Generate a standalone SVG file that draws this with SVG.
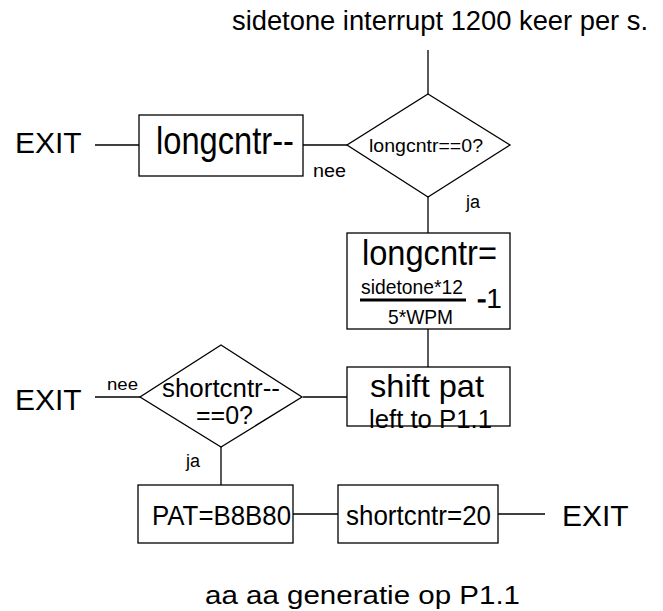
<svg xmlns="http://www.w3.org/2000/svg" width="663" height="611" viewBox="0 0 663 611">
<style>
text{font-family:"Liberation Sans",Arial,sans-serif;fill:#000}
.s{fill:#fff;stroke:#000;stroke-width:1.3}
.c{stroke:#000;stroke-width:1.3;fill:none}
</style>
<rect width="663" height="611" fill="#fff"/>
<g id="connectors">
<line class="c" x1="428" y1="50" x2="428" y2="94"/>
<line class="c" x1="95" y1="145" x2="139" y2="145"/>
<line class="c" x1="303" y1="145" x2="347" y2="145"/>
<line class="c" x1="428" y1="197" x2="428" y2="233"/>
<line class="c" x1="428" y1="329" x2="428" y2="367"/>
<line class="c" x1="303" y1="397" x2="347" y2="397"/>
<line class="c" x1="95" y1="397" x2="140" y2="397"/>
<line class="c" x1="221" y1="447" x2="221" y2="485"/>
<line class="c" x1="293" y1="514" x2="338" y2="514"/>
<line class="c" x1="498" y1="514" x2="545" y2="514"/>
<text x="313" y="177" font-size="18" textLength="33" lengthAdjust="spacingAndGlyphs">nee</text>
<text x="466" y="208" font-size="18">ja</text>
<text x="107" y="390" font-size="17" textLength="31" lengthAdjust="spacingAndGlyphs">nee</text>
<text x="186" y="467" font-size="18">ja</text>
</g>
<g id="title"><text x="232" y="30" font-size="27" textLength="416" lengthAdjust="spacingAndGlyphs">sidetone interrupt 1200 keer per s.</text></g>
<g id="exit1"><text x="15" y="153" font-size="30">EXIT</text></g>
<g id="box-longcntr-dec"><rect class="s" x="139" y="115" width="164" height="61"/>
<text x="156" y="154" font-size="38" textLength="138" lengthAdjust="spacingAndGlyphs">longcntr--</text></g>
<g id="dec-longcntr"><polygon class="s" points="428,94 510,145 428,197 347,145"/>
<text x="369" y="152" font-size="19" textLength="114" lengthAdjust="spacingAndGlyphs">longcntr==0?</text></g>
<g id="box-longcntr-set"><rect class="s" x="347" y="233" width="163" height="96"/>
<text x="362" y="265" font-size="35" textLength="135" lengthAdjust="spacingAndGlyphs">longcntr=</text>
<text x="361" y="294" font-size="21" textLength="102" lengthAdjust="spacingAndGlyphs">sidetone*12</text>
<line x1="360" y1="300" x2="466" y2="300" stroke="#000" stroke-width="3"/>
<text x="388" y="324" font-size="21" textLength="65" lengthAdjust="spacingAndGlyphs">5*WPM</text>
<text x="477" y="308" font-size="28"><tspan stroke="#000" stroke-width="1">-</tspan><tspan>1</tspan></text></g>
<g id="box-shift"><rect class="s" x="347" y="367" width="163" height="59"/>
<text x="370" y="397" font-size="32" textLength="114" lengthAdjust="spacingAndGlyphs">shift pat</text>
<text x="369" y="428" font-size="25" textLength="123" lengthAdjust="spacingAndGlyphs">left to P1.1</text></g>
<g id="dec-shortcntr"><polygon class="s" points="221,345 302,397 221,447 140,397"/>
<text x="162" y="397" font-size="26" textLength="118" lengthAdjust="spacingAndGlyphs">shortcntr--</text>
<text x="196" y="424" font-size="26" textLength="57" lengthAdjust="spacingAndGlyphs">==0?</text></g>
<g id="exit2"><text x="15" y="410" font-size="30">EXIT</text></g>
<g id="box-pat"><rect class="s" x="138" y="485" width="155" height="58"/>
<text x="152" y="525" font-size="28" textLength="139" lengthAdjust="spacingAndGlyphs">PAT=B8B80</text></g>
<g id="box-shortcntr-set"><rect class="s" x="338" y="485" width="160" height="58"/>
<text x="346" y="525" font-size="28" textLength="145" lengthAdjust="spacingAndGlyphs">shortcntr=20</text></g>
<g id="exit3"><text x="562" y="526" font-size="30">EXIT</text></g>
<g id="caption"><text x="205" y="604" font-size="26" textLength="315" lengthAdjust="spacingAndGlyphs">aa aa generatie op P1.1</text></g>
</svg>
